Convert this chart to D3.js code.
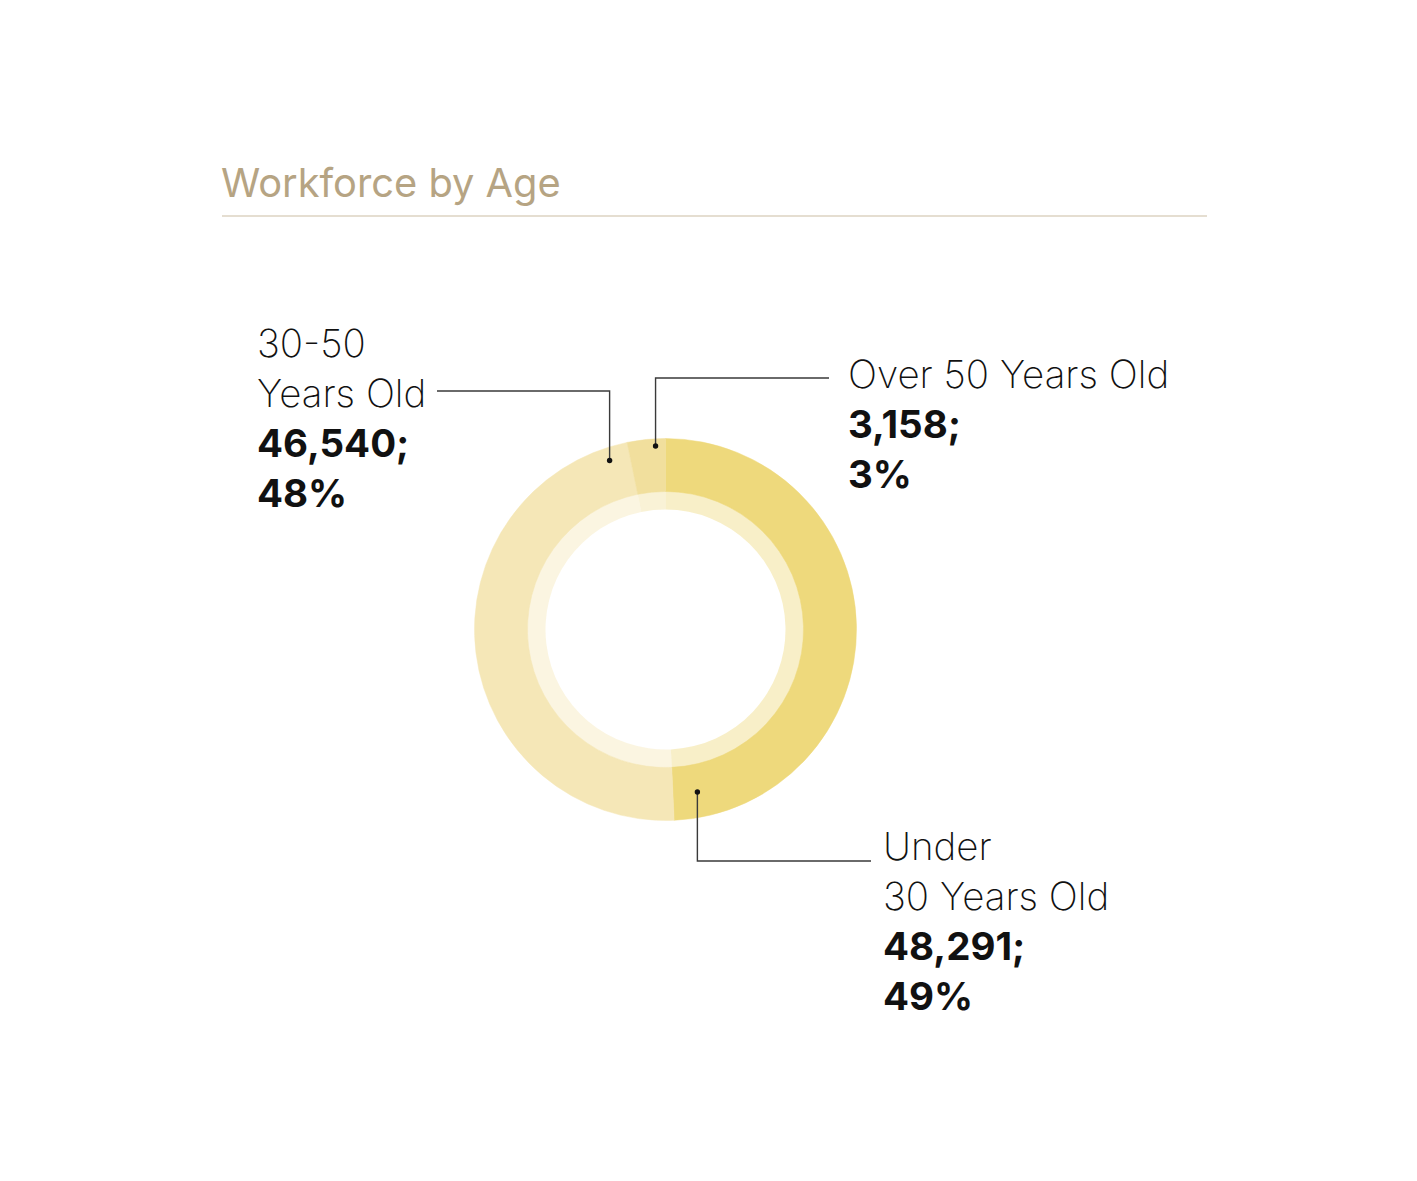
<!DOCTYPE html>
<html>
<head>
<meta charset="utf-8">
<script src="https://d3js.org/d3.v7.min.js"></script>
<style>
  body { margin: 0; background: #fff; }
  text { font-family: Inter, "Noto Sans", sans-serif; }
  .name { font-weight: 250; fill: #111; }
  .num { font-weight: 700; fill: #111; }
  .title { font-weight: 400; fill: #b6a483; }
</style>
</head>
<body onload="init()">
<svg width="1417" height="1181"></svg>
<script>
// chart data
const title = 'Workforce by Age';
const categories = ['Under 30 Years Old', '30-50 Years Old', 'Over 50 Years Old'];
const nameLines = [['Under', '30 Years Old'], ['30-50', 'Years Old'], ['Over 50 Years Old']];
const values = [48291, 46540, 3158];
const percents = ['49%', '48%', '3%'];
const colors = ['#eed97c', '#f5e7b7', '#f1df9d'];

function init() {
  const svg = d3.select('svg');
  const cx = 665.5, cy = 629.5;

  // title + rule
  svg.append('text').attr('class', 'title')
    .attr('x', 221).attr('y', 197)
    .style('font-size', '39.8px')
    .text(title);
  svg.append('line')
    .attr('x1', 222).attr('x2', 1207).attr('y1', 216).attr('y2', 216)
    .attr('stroke', '#ddd3c2').attr('stroke-width', 1.3);

  const pie = d3.pie().sort(null).value(d => d);
  const arcs = pie(values);

  const g = svg.append('g').attr('transform', `translate(${cx},${cy})`);
  const outer = d3.arc().innerRadius(138).outerRadius(191);
  const inner = d3.arc().innerRadius(120).outerRadius(138.5);

  g.selectAll('path.outer').data(arcs).enter().append('path')
    .attr('class', 'outer')
    .attr('d', outer)
    .attr('fill', (d, i) => colors[i])
    .attr('stroke', (d, i) => colors[i]).attr('stroke-width', 0.5);

  g.selectAll('path.inner').data(arcs).enter().append('path')
    .attr('class', 'inner')
    .attr('d', inner)
    .attr('fill', (d, i) => colors[i])
    .attr('fill-opacity', 0.42);

  // leader lines: dot on ring -> elbow -> label
  const leaders = [
    { ang: 168.9, r: 165.6, elbowY: 861, endX: 871, tx: 883, ty: 860 },
    { ang: 341.7, r: 178, elbowY: 391, endX: 437, tx: 257, ty: 357 },
    { ang: 356.9, r: 183.8, elbowY: 378, endX: 829, tx: 848, ty: 388 }
  ];

  leaders.forEach((L, i) => {
    const a = L.ang * Math.PI / 180;
    const px = cx + L.r * Math.sin(a), py = cy - L.r * Math.cos(a);
    svg.append('path')
      .attr('d', d3.line()([[px, py], [px, L.elbowY], [L.endX, L.elbowY]]))
      .attr('fill', 'none').attr('stroke', '#3a3a3a').attr('stroke-width', 1.4);
    svg.append('circle').attr('cx', px).attr('cy', py).attr('r', 2.7).attr('fill', '#111');

    const lines = nameLines[i].map(t => ({ t, cls: 'name' }))
      .concat([{ t: d3.format(',')(values[i]) + ';', cls: 'num' }, { t: percents[i], cls: 'num' }]);
    svg.append('g').selectAll('text').data(lines).enter().append('text')
      .attr('class', d => d.cls)
      .attr('x', L.tx)
      .attr('y', (d, j) => L.ty + j * 50)
      .style('font-size', '38.5px')
      .text(d => d.t);
  });
}
</script>
</body>
</html>
